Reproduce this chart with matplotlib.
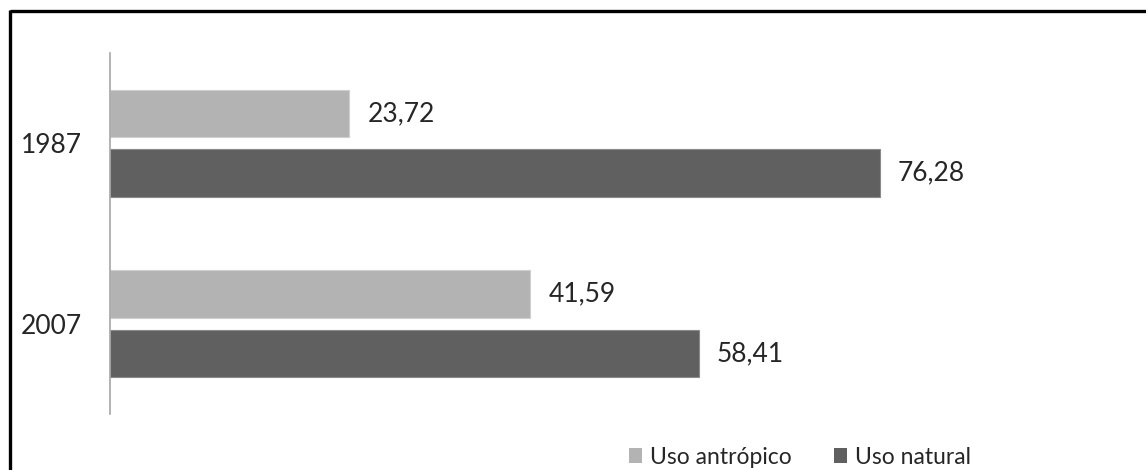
import matplotlib
matplotlib.use("Agg")
import matplotlib.pyplot as plt
from matplotlib.lines import Line2D
from matplotlib.patches import Patch
import numpy as np

years = ["1987", "2007"]
antropico = [23.72, 41.59]
natural = [76.28, 58.41]
labels_antropico = ["23,72", "41,59"]
labels_natural = ["76,28", "58,41"]
series_names = ["Uso antrópico", "Uso natural"]

plt.rcParams['font.family'] = ['Lato', 'DejaVu Sans']

W, H = 1146, 470
fig = plt.figure(figsize=(W / 100, H / 100), dpi=100)
ax = fig.add_axes([110 / W, 1 - 414 / H, 1009 / W, 361 / H])

y = np.arange(len(years))
bh = 0.265
off = 0.165
c_light = "#b3b3b3"
c_dark = "#606060"

b1 = ax.barh(y - off, antropico, height=bh, color=c_light, edgecolor="#cfcfcf", linewidth=0.8)
b2 = ax.barh(y + off, natural, height=bh, color=c_dark, edgecolor="#8a8a8a", linewidth=0.8)

for rect, lab in zip(b1, labels_antropico):
    ax.text(rect.get_width() + 1.85, rect.get_y() + rect.get_height() / 2, lab,
            va="center", ha="left", fontsize=19, color="#262626")
for rect, lab in zip(b2, labels_natural):
    ax.text(rect.get_width() + 1.75, rect.get_y() + rect.get_height() / 2, lab,
            va="center", ha="left", fontsize=19, color="#262626")

ax.set_xlim(0, 100)
ax.set_ylim(1.5, -0.5)
ax.set_yticks(y)
ax.set_yticklabels(years, fontsize=19, color="#262626")
ax.tick_params(axis="y", length=0, pad=20)
ax.set_xticks([])
for s in ["top", "right", "bottom"]:
    ax.spines[s].set_visible(False)
ax.spines["left"].set_color("#a6a6a6")
ax.spines["left"].set_linewidth(1.2)

handles = [Patch(facecolor=c_light, edgecolor="none"), Patch(facecolor=c_dark, edgecolor="none")]
fig.legend(handles, series_names, loc="center", bbox_to_anchor=(800 / W, 1 - 457 / H),
           ncol=2, frameon=False, fontsize=16.5, handlelength=0.6, handleheight=0.6,
           handletextpad=0.35, columnspacing=1.8, labelcolor="#262626")

# outer frame (top and left edges)
fig.add_artist(Line2D([9.5 / W, 1.0], [1 - 11 / H, 1 - 11 / H], transform=fig.transFigure,
                      color="black", linewidth=2.4, solid_capstyle="butt"))
fig.add_artist(Line2D([10 / W, 10 / W], [0.0, 1 - 10 / H], transform=fig.transFigure,
                      color="black", linewidth=2.4, solid_capstyle="butt"))

fig.savefig("out.png", dpi=100, facecolor="white")
